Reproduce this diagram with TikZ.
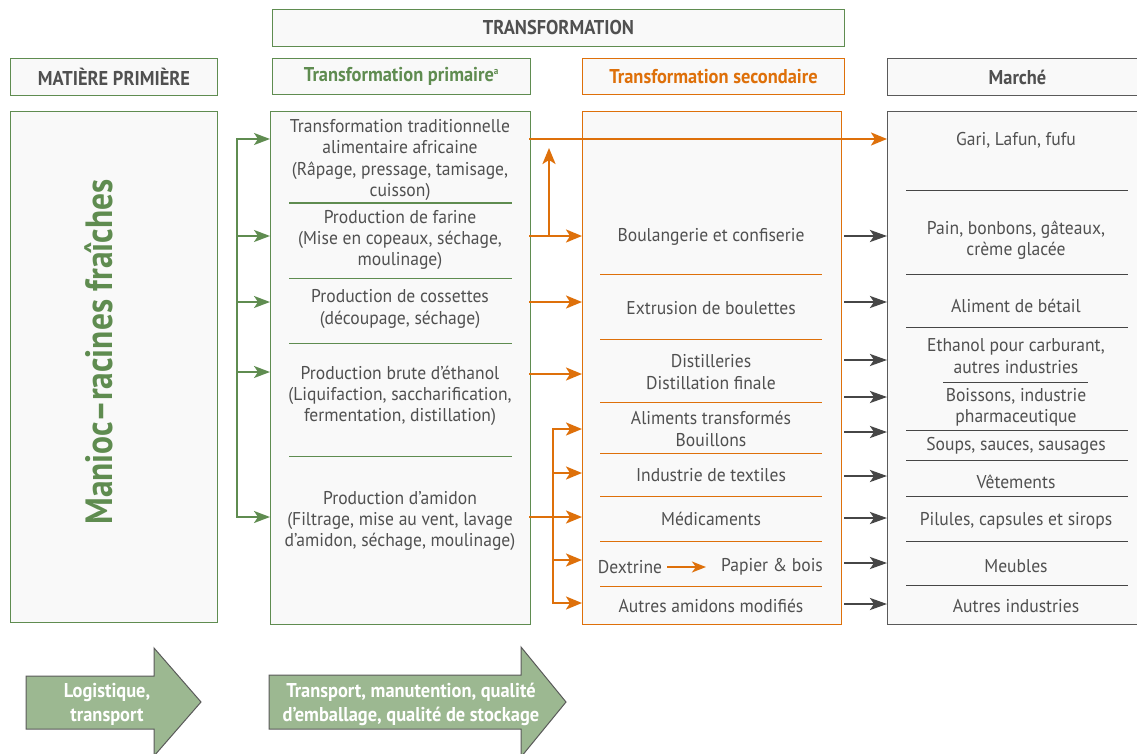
\documentclass[tikz,border=0pt]{standalone}
\usepackage{fontspec}
\setmainfont{PT Sans}[FakeStretch=0.95]
\newfontfamily\etroit{PT Sans}[FakeStretch=0.92]
\newfontfamily\grandetroit{PT Sans}[FakeStretch=0.88]
\usetikzlibrary{arrows.meta}
\definecolor{vertF}{RGB}{95,140,80}
\definecolor{orangeF}{RGB}{222,112,10}
\definecolor{grisT}{RGB}{80,80,80}
\definecolor{grisF}{RGB}{70,70,70}
\definecolor{grisB}{RGB}{90,90,90}
\definecolor{fond}{RGB}{249,249,249}
\definecolor{vertfl}{RGB}{156,184,145}

\begin{document}
\begin{tikzpicture}[x=1pt,y=-1pt,font=\fontsize{18.5}{21.3}\selectfont,text=grisT,
	cadre/.style={draw=#1,fill=fond,line width=1pt,anchor=north west,inner sep=0pt},
	titre/.style={font=\fontsize{20}{22}\selectfont\etroit\bfseries},
	item/.style={align=center,inner sep=1pt},
	flv/.style={vertF,line width=2pt,-{Stealth[length=16pt,width=12pt,inset=4pt]}},
	flo/.style={orangeF,line width=2.5pt,-{Stealth[length=16pt,width=13pt,inset=4pt]}},
	flg/.style={grisF,line width=2.5pt,-{Stealth[length=17pt,width=12pt,inset=4pt]}},
	pave/.style={draw=grisB,fill=vertfl,line width=1pt},
	pavetxt/.style={align=center,text=white,font=\fontsize{20}{24}\selectfont\etroit\bfseries}]
	\useasboundingbox (0,0) rectangle (1137,754);

	\node[cadre=vertF,minimum width=572pt,minimum height=37pt,titre] (htrans) at (272,9) {TRANSFORMATION};
	\node[cadre=vertF,minimum width=207pt,minimum height=37pt,titre] (hmat) at (10,58) {MATIÈRE PRIMIÈRE};
	\node[cadre=vertF,minimum width=258pt,minimum height=36pt,titre,text=vertF] (hprim) at (272,58) {Transformation primaire\textsuperscript{\fontsize{10}{10}\selectfont a}};
	\node[cadre=orangeF,minimum width=262pt,minimum height=36pt,titre,text=orangeF] (hsec) at (582,58) {Transformation secondaire};
	\node[cadre=grisB,minimum width=260pt,minimum height=37pt,titre] (hmar) at (887,58) {Marché};

	\node[cadre=vertF,minimum width=207pt,minimum height=511pt] (manioc) at (10,111) {};
	\node[cadre=vertF,minimum width=260pt,minimum height=513pt] (prim) at (270,111) {};
	\node[cadre=orangeF,minimum width=259pt,minimum height=513pt] (sec) at (582,111) {};
	\node[cadre=grisB,minimum width=260pt,minimum height=513pt] (marche) at (887,111) {};

	\node[rotate=90,text=vertF,font=\fontsize{38}{42}\selectfont\grandetroit\bfseries] (racines) at (99,352) {Manioc–racines fraîches};

	\node[item] (trad) at (400,160) {Transformation traditionnelle\\alimentaire africaine\\(Râpage, pressage, tamisage,\\cuisson)};
	\node[item] (farine) at (400,240) {Production de farine\\(Mise en copeaux, séchage,\\moulinage)};
	\node[item] (cossettes) at (400,309) {Production de cossettes\\(découpage, séchage)};
	\node[item] (ethanol) at (400,396) {Production brute d’éthanol\\(Liquifaction, saccharification,\\fermentation, distillation)};
	\node[item] (amidon) at (400,521) {Production d’amidon\\(Filtrage, mise au vent, lavage\\d’amidon, séchage, moulinage)};
	\foreach \y in {203,278,343,456}
		\draw[vertF,line width=1pt] (289,\y) -- (512,\y);

	\node[item] (boulange) at (711,237) {Boulangerie et confiserie};
	\node[item] (extrusion) at (711,308) {Extrusion de boulettes};
	\node[item] (distil) at (711,372) {Distilleries\\Distillation finale};
	\node[item] (aliments) at (711,429) {Aliments transformés\\Bouillons};
	\node[item] (textiles) at (711,475) {Industrie de textiles};
	\node[item] (medic) at (711,519) {Médicaments};
	\node[item] (dextrine) at (630,567) {Dextrine};
	\node[item] (papier) at (772,567) {Papier \& bois};
	\node[item] (autresam) at (711,606) {Autres amidons modifiés};
	\foreach \y in {274,339,402,453,496,541,586}
		\draw[orangeF,line width=1pt] (600,\y) -- (822,\y);

	\node[item] (gari) at (1016,140) {Gari, Lafun, fufu};
	\node[item] (pain) at (1016,240) {Pain, bonbons, gâteaux,\\crème glacée};
	\node[item] (betail) at (1016,306) {Aliment de bétail};
	\node[item] (carbu) at (1016,356) {Ethanol pour carburant,\\autres industries};
	\node[item] (boissons) at (1016,407) {Boissons, industrie\\pharmaceutique};
	\node[item] (soups) at (1016,446) {Soups, sauces, sausages};
	\node[item] (vetements) at (1016,482) {Vêtements};
	\node[item] (pilules) at (1016,521) {Pilules, capsules et sirops};
	\node[item] (meubles) at (1016,566) {Meubles};
	\node[item] (autresind) at (1016,606) {Autres industries};
	\foreach \y in {191,274,327,430,460,496,541,585}
		\draw[grisF,line width=1pt] (906,\y) -- (1128,\y);
	\draw[grisF,line width=1pt] (943,382) -- (1088,382);

	\foreach \n/\y in {1/139,2/236,3/302,4/372,5/517}
		\coordinate (v\n) at (237,\y);
	\draw[vertF,line width=2pt,line cap=rect] (v1) -- (v5);
	\foreach \n in {1,...,5}
		\draw[flv] (v\n) -- (v\n -| prim.west);

	\foreach \n/\y in {1/139,2/236,3/302,4/374,5/517}
		\coordinate (o\n) at (529,\y);
	\draw[flo] (o1) -- (o1 -| marche.west);
	\foreach \n in {2,3,4}
		\draw[flo] (o\n) -- (o\n -| sec.west);
	\coordinate (monte) at (549,236);
	\draw[flo] (monte) -- ++(0,-88);
	\foreach \n/\y in {1/429,2/473,3/517,4/560,5/603}
		\coordinate (a\n) at (553,\y);
	\draw[orangeF,line width=2.5pt] (o5) -- (a3);
	\draw[orangeF,line width=2.5pt,line cap=rect] (a1) -- (a5);
	\foreach \n in {1,...,5}
		\draw[flo] (a\n) -- (a\n -| sec.west);
	\draw[orangeF,line width=2pt,-{Stealth[length=14pt,width=11pt,inset=4pt]},shorten <=4pt,shorten >=14pt] (dextrine.east) -- (papier.west);

	\foreach \n/\y in {1/236,2/302,3/360,4/397,5/432,6/476,7/518,8/563,9/604}
		\coordinate (g\n) at (844,\y);
	\foreach \n in {1,...,9}
		\draw[flg] (g\n) -- (g\n -| marche.west);

	\draw[pave] (26,676) -- (154,676) -- (154,648) -- (201,702) -- (154,756) -- (154,729) -- (26,729) -- cycle;
	\node[pavetxt] (logis) at (107,704) {Logistique,\\transport};
	\draw[pave] (269,675) -- (521,675) -- (521,647) -- (566,702) -- (521,757) -- (521,729) -- (269,729) -- cycle;
	\node[pavetxt] (stockage) at (411,704) {Transport, manutention, qualité\\d’emballage, qualité de stockage};
\end{tikzpicture}
\end{document}
